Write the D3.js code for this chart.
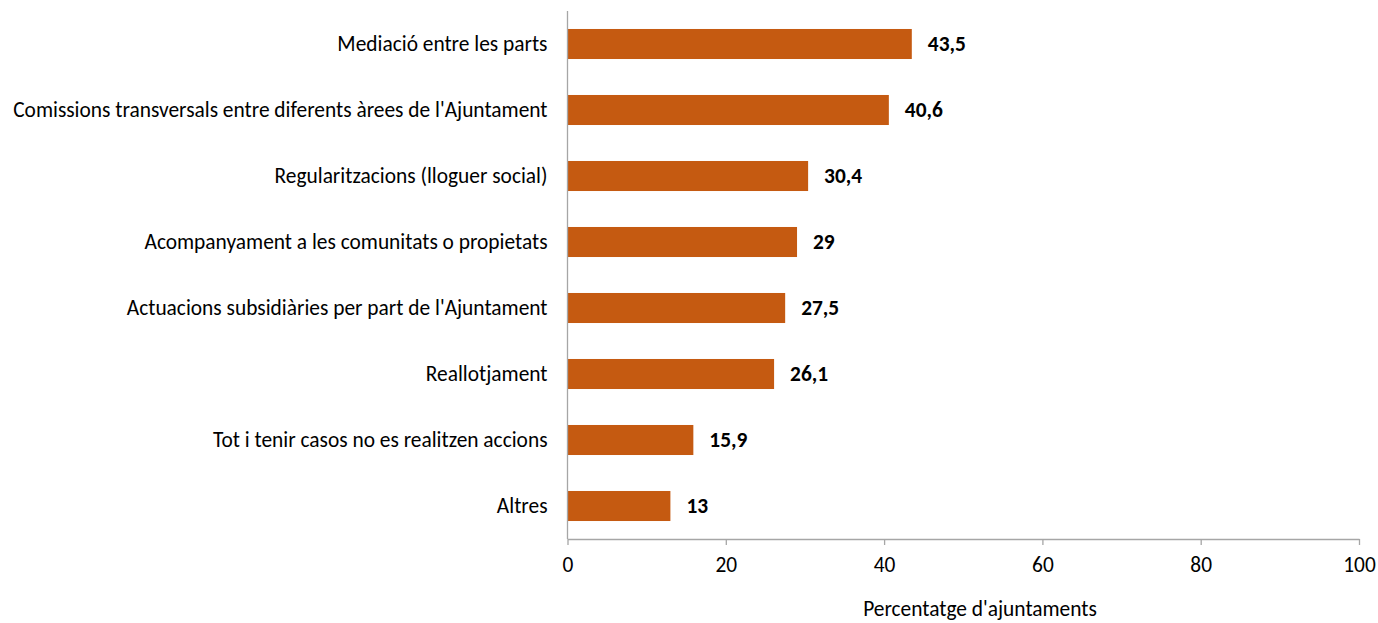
<!DOCTYPE html>
<html><head><meta charset="utf-8">
<script src="https://cdn.jsdelivr.net/npm/d3@7"></script>
<style>body{margin:0;background:#fff;} svg{display:block;}</style>
</head><body>
<svg id="chart" width="1378" height="623"></svg>
<script>
const categories = [
  "Mediació entre les parts",
  "Comissions transversals entre diferents àrees de l'Ajuntament",
  "Regularitzacions (lloguer social)",
  "Acompanyament a les comunitats o propietats",
  "Actuacions subsidiàries per part de l'Ajuntament",
  "Reallotjament",
  "Tot i tenir casos no es realitzen accions",
  "Altres"
];
const values = [43.5, 40.6, 30.4, 29, 27.5, 26.1, 15.9, 13];
const valueLabels = ["43,5", "40,6", "30,4", "29", "27,5", "26,1", "15,9", "13"];
const xTicks = [0, 20, 40, 60, 80, 100];
const xTitle = "Percentatge d'ajuntaments";

const font = "Carlito, Calibri, Lato, sans-serif";
const fs = 21.4;
const svg = d3.select("#chart");
const x = d3.scaleLinear().domain([0, 100]).range([567.5, 1359]);
const y = d3.scaleBand().domain(categories).range([11, 539]).paddingInner(0.545).paddingOuter(0.2725);

svg.append("g").selectAll("rect").data(values).join("rect")
  .attr("x", x(0)).attr("y", (d, i) => y(categories[i]))
  .attr("width", d => x(d) - x(0)).attr("height", y.bandwidth())
  .attr("fill", "#C55A11");

svg.append("g").selectAll("text").data(values).join("text")
  .attr("x", d => x(d) + 16).attr("y", (d, i) => y(categories[i]) + y.bandwidth() / 2)
  .attr("dy", "0.35em").attr("font-family", font).attr("font-weight", "bold")
  .attr("font-size", fs).attr("fill", "#000").text((d, i) => valueLabels[i]);

// y axis
const yAxis = svg.append("g").attr("transform", `translate(${x(0)},0)`)
  .call(d3.axisLeft(y).tickSize(0).tickPadding(20));
yAxis.select(".domain").attr("stroke", "#A6A6A6").attr("stroke-width", 1.3).attr("d", `M0,11V539`);
yAxis.selectAll("text").attr("font-family", font).attr("font-size", fs).attr("fill", "#000");

// x axis
const xAxis = svg.append("g").attr("transform", `translate(0,539)`)
  .call(d3.axisBottom(x).tickValues(xTicks).tickSize(6).tickPadding(12).tickSizeOuter(0));
xAxis.select(".domain").attr("stroke", "#A6A6A6").attr("stroke-width", 1.3);
xAxis.selectAll("line").attr("stroke", "#A6A6A6").attr("stroke-width", 1.3);
xAxis.selectAll("text").attr("font-family", font).attr("font-size", fs).attr("fill", "#000");

svg.append("text").attr("x", 980).attr("y", 609).attr("dy", "0.35em")
  .attr("text-anchor", "middle").attr("font-family", font).attr("font-size", fs).attr("fill", "#000")
  .text(xTitle);
</script>
</body></html>
